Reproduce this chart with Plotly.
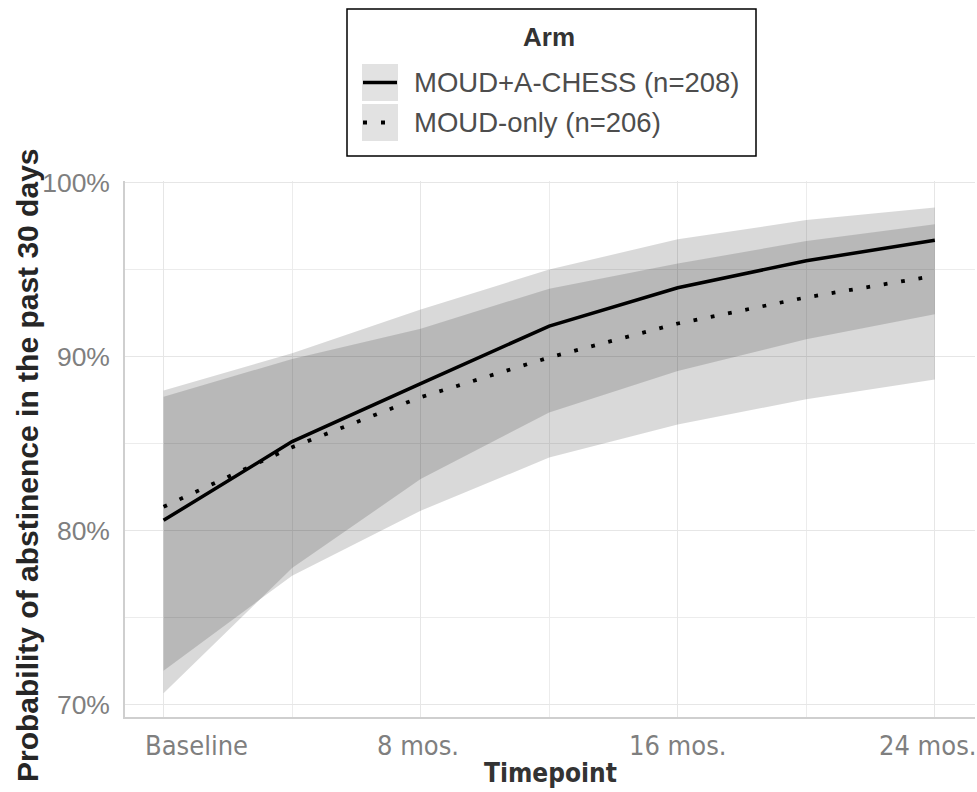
import plotly.graph_objects as go

# ---- data ----
months = [0, 4, 8, 12, 16, 20, 24]
tick_vals = [0, 8, 16, 24]
tick_text = ["Baseline", "8 mos.", "16 mos.", "24 mos."]
y_tick_vals = [0.7, 0.8, 0.9, 1.0]

achess_name = "MOUD+A-CHESS (n=208)"
achess_est = [0.806, 0.8512, 0.8845, 0.9175, 0.9395, 0.9550, 0.9668]
achess_lo = [0.7067, 0.7786, 0.8297, 0.8679, 0.8917, 0.9099, 0.9243]
achess_hi = [0.8805, 0.9019, 0.9271, 0.9500, 0.9673, 0.9784, 0.9856]

moud_name = "MOUD-only (n=206)"
moud_est = [0.8138, 0.8480, 0.8767, 0.8995, 0.9190, 0.9340, 0.9464]
moud_lo = [0.7197, 0.7742, 0.8115, 0.8420, 0.8610, 0.8755, 0.8868]
moud_hi = [0.8770, 0.8986, 0.9160, 0.9390, 0.9534, 0.9663, 0.9759]

# ---- layout geometry ----
W, H = 977, 792
L, R, T, B = 125, 2, 181, 75
PW, PH = W - L - R, H - T - B

def px(xp):
    return (xp - L) / PW

def py(yp):
    return (H - B - yp) / PH

FONT = "Liberation Sans"
NARROW = "Liberation Sans Narrow, Arial Narrow, DejaVu Sans Condensed, Roboto Condensed, Liberation Sans"
RIB = "rgba(0,0,0,0.15)"

fig = go.Figure()

for lo, hi, nm in [(achess_lo, achess_hi, achess_name), (moud_lo, moud_hi, moud_name)]:
    fig.add_trace(go.Scatter(x=months, y=lo, mode="lines", line=dict(width=0),
                             showlegend=False, hoverinfo="skip"))
    fig.add_trace(go.Scatter(x=months, y=hi, mode="lines", line=dict(width=0),
                             fill="tonexty", fillcolor=RIB, showlegend=False,
                             hoverinfo="skip", name=nm))

fig.add_trace(go.Scatter(x=months, y=achess_est, mode="lines", name=achess_name,
                         line=dict(color="black", width=3.5), showlegend=False))
fig.add_trace(go.Scatter(x=months, y=moud_est, mode="lines", name=moud_name,
                         line=dict(color="black", width=3.8, dash="3.8px,13.8px"),
                         showlegend=False))

# ---- manual legend (ggplot-style) ----
shapes = []
annotations = []
shapes.append(dict(type="rect", xref="paper", yref="paper",
                   x0=px(347), x1=px(756), y0=py(156), y1=py(9),
                   line=dict(color="black", width=1.5), fillcolor="white", layer="above"))
annotations.append(dict(xref="paper", yref="paper", x=px(549), y=py(37),
                        text="<b>Arm</b>", showarrow=False, xanchor="center", yanchor="middle",
                        font=dict(family=FONT, size=26, color="#333333")))
for i, (nm, dash) in enumerate([(achess_name, None), (moud_name, "dot")]):
    ky0 = 64 + i * 40
    ky1 = ky0 + 37
    shapes.append(dict(type="rect", xref="paper", yref="paper",
                       x0=px(362), x1=px(398), y0=py(ky1), y1=py(ky0),
                       line=dict(width=0), fillcolor="#e2e2e2", layer="above"))
    yc = (ky0 + ky1) / 2
    if dash is None:
        shapes.append(dict(type="line", xref="paper", yref="paper",
                           x0=px(363), x1=px(397), y0=py(yc), y1=py(yc),
                           line=dict(color="black", width=3.5), layer="above"))
    else:
        for dx in [365, 383]:
            shapes.append(dict(type="rect", xref="paper", yref="paper",
                               x0=px(dx - 2), x1=px(dx + 2), y0=py(yc + 2), y1=py(yc - 2),
                               line=dict(width=0), fillcolor="black", layer="above"))
    annotations.append(dict(xref="paper", yref="paper", x=px(412), y=py(yc),
                            text=nm, showarrow=False, xanchor="left", yanchor="middle",
                            font=dict(family=FONT, size=27.5, color="#4d4d4d")))

# x tick labels, placed at the tick values through the x scale (with the reference's offsets)
label_shift = [33, -3, 0, -7]
for v, t, s in zip(tick_vals, tick_text, label_shift):
    annotations.append(dict(xref="x", yref="paper", x=v, y=py(745), xshift=s,
                            text=t, showarrow=False, xanchor="center", yanchor="middle",
                            font=dict(family=NARROW, size=27, color="#7f7f7f")))

# axis titles
annotations.append(dict(xref="paper", yref="paper", x=px(27), y=py(465),
                        text="<b>Probability of abstinence in the past 30 days</b>",
                        textangle=-90, showarrow=False, xanchor="center", yanchor="middle",
                        font=dict(family=FONT, size=30, color="#262626")))
annotations.append(dict(xref="paper", yref="paper", x=px(550), y=py(773),
                        text="<b>Timepoint</b>", showarrow=False, xanchor="center",
                        yanchor="middle", font=dict(family=NARROW, size=26, color="#333333")))

fig.update_layout(
    width=W, height=H, margin=dict(l=L, r=R, t=T, b=B, autoexpand=False),
    paper_bgcolor="white", plot_bgcolor="white",
    showlegend=False, shapes=shapes, annotations=annotations,
    xaxis=dict(range=[-1.2, 25.25], tickvals=tick_vals, ticktext=tick_text,
               showticklabels=False,
               showgrid=True, gridcolor="#e6e6e6", gridwidth=1.3,
               minor=dict(tickvals=[4, 12, 20], showgrid=True, gridcolor="#ececec", gridwidth=1),
               showline=True, linecolor="#cfcfcf", linewidth=1.5, zeroline=False,
               ticks=""),
    yaxis=dict(range=[0.6931, 1.0008], tickvals=y_tick_vals, tickformat=".0%",
               showgrid=True, gridcolor="#e6e6e6", gridwidth=1.3,
               minor=dict(tickvals=[0.75, 0.85, 0.95], showgrid=True, gridcolor="#ececec", gridwidth=1),
               showline=True, linecolor="#cfcfcf", linewidth=1.5, zeroline=False,
               ticks="", ticklabelstandoff=8,
               tickfont=dict(family=FONT, size=26.5, color="#7f7f7f")),
)

fig.write_html("out.html", config={"displayModeBar": False},
               post_script="document.body.style.margin='0';")
